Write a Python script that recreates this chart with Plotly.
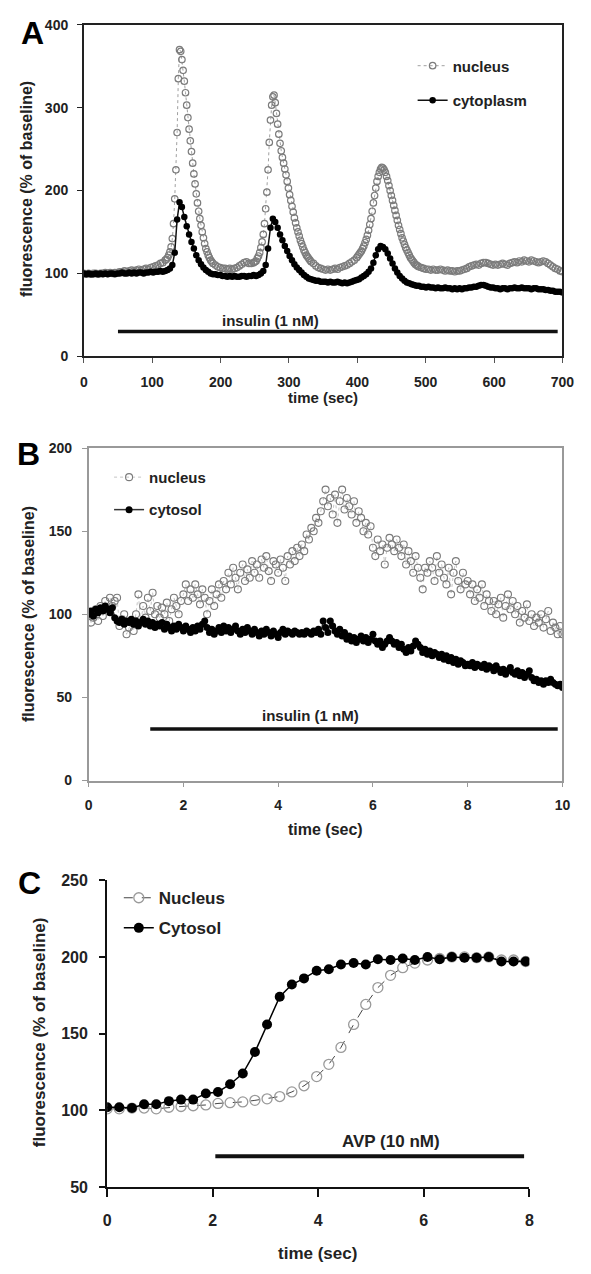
import numpy as np
import plotly.graph_objects as go

W, H = 591, 1274

# ---------------- Panel A data (time 0..700 s) ----------------
# nucleus: sampled every 3.5 s on plateaus and 1.75 s across the three peaks
nucA_seg1 = [100, 99, 100, 99, 100, 100, 99, 100, 100, 101,
             100, 101, 100, 101, 101, 102, 102, 103, 102, 103,
             104, 103, 104, 105, 104, 105, 106, 105, 107, 108,
             109, 110, 112, 113, 116]                                  # 0 .. 119 (3.5 s)
nucA_peak1 = [117, 119, 122, 126, 132, 142, 160, 190, 225, 270,
              335, 370, 368, 358, 345, 332, 318, 303, 288, 274,
              260, 247, 233, 220, 208, 196, 185, 175, 166, 158,
              150, 143, 136, 130, 126, 122, 119, 116, 114, 112]        # 120.75 .. 189 (1.75 s)
nucA_seg3 = [110, 108, 107, 106, 106, 105, 106, 105, 106, 107,
             109, 111, 113, 114, 112, 112, 113]                        # 192.5 .. 248.5
nucA_peak2 = [114, 115, 118, 121, 125, 131, 138, 147, 160, 178,
              198, 225, 258, 285, 303, 313, 315, 306, 293, 280,
              268, 257, 248, 240, 233, 226, 219, 211, 203, 195,
              188, 181, 174, 167, 161, 155, 150, 145, 140, 136,
              132, 128, 125, 122, 120, 118, 116, 114]                  # 250.25 .. 332.5
nucA_seg5 = [112, 109, 107, 106, 105, 104, 105, 104, 105, 106,
             105, 107, 108, 109, 110, 112, 114, 116, 119]              # 336 .. 399
nucA_peak3 = [121, 123, 125, 127, 130, 133, 137, 141, 146, 152,
              159, 166, 175, 185, 194, 203, 211, 217, 222, 226,
              228, 227, 225, 222, 217, 212, 206, 200, 194, 188,
              182, 176, 170, 164, 158, 153, 148, 143, 139, 135,
              131, 128, 125, 122, 119, 117, 115, 113, 111, 110,
              109, 108]                                                # 400.75 .. 490
nucA_seg7 = [107, 106, 105, 105, 104, 105, 104, 104, 105,
             104, 103, 104, 103, 103, 102, 103, 103, 104, 105,
             106, 108, 109, 110, 111, 110, 112, 113, 113, 112,
             111, 110, 111, 110, 111, 112, 111, 110, 112, 113,
             114, 113, 115, 114, 116, 115, 114, 116, 115, 114,
             113, 114, 115, 114, 112, 110, 108, 106, 105, 103,
             102]                                                      # 493.5 .. 700
nucA_segments = [  # (start, step) for each nucleus segment
    (0.0, 3.5), (120.75, 1.75), (192.5, 3.5), (250.25, 1.75),
    (336.0, 3.5), (400.75, 1.75), (493.5, 3.5)]

cytoplasm_A = [
    100, 99, 100, 99, 99, 100, 99, 100, 99,
    100, 99, 100, 100, 99, 100, 100, 101, 100, 100, 101, 100,
    101, 100, 101, 101, 100, 101, 101, 102,
    101, 102, 102, 103, 102, 103, 104, 106,
    110, 125, 165, 186, 180, 168, 157, 147, 138, 130, 122, 116, 111, 107, 104, 102, 100, 99,
    99, 98, 98, 97, 97, 96, 97, 96, 97, 96, 96, 97, 97, 96, 97, 97, 98, 97,
    98, 100, 103, 110, 130, 155, 166, 162, 155, 147, 140, 133, 127, 121, 116, 111, 107, 104,
    101, 98, 96, 94, 93, 92, 91, 91, 90, 90,
    90, 89, 90, 89, 89, 90, 89, 88, 89, 88, 89, 90,
    91, 92, 93, 95, 97, 99, 102, 106, 113, 122, 129, 133, 132, 129, 124, 118, 112, 106,
    101, 97, 94, 91, 89, 88, 87, 86, 85, 85,
    84, 84, 83, 84, 83, 83, 82, 83, 82, 82, 83, 82, 82, 81, 82, 81, 82, 81,
    82, 82, 83, 83, 84, 84, 85, 86, 86, 85, 84, 83,
    83, 82, 82, 81, 82, 82, 81, 82, 82, 83, 82, 82, 83, 82, 82, 82, 81, 82, 82, 81,
    81, 81, 80, 80, 79, 79, 78, 78, 78, 77,
]
time_A_end = 700
insulin_A = (50, 693)

# ---------------- Panel B data (time 0..10 s) ----------------
nucleus_B = [
    100, 95, 98, 103, 96, 105, 99, 108, 103, 110,
    105, 108, 110, 93, 97, 100, 88, 92, 95, 90,
    100, 112, 95, 105, 98, 110, 102, 113, 100, 105,
    98, 104, 100, 107, 96, 103, 110, 105, 100, 108,
    112, 118, 108, 115, 110, 118, 112, 106, 115, 110,
    100, 108, 115, 105, 112, 118, 110, 120, 115, 125,
    118, 128, 122, 115, 125, 130, 120, 127, 122, 132,
    125, 130, 122, 133, 128, 135, 126, 120, 132, 130,
    125, 133, 128, 120, 135, 130, 138, 132, 140, 135,
    142, 138, 148, 145, 152, 150, 158, 155, 162, 168,
    175, 165, 170, 160, 172, 155, 168, 175, 163, 170,
    165, 160, 168, 155, 162, 158, 150, 155, 148, 153,
    140, 135, 145, 138, 142, 130, 140, 146, 142, 138,
    145, 140, 135, 142, 130, 138, 132, 125, 135, 128,
    122, 115, 128, 125, 132, 128, 120, 135, 125, 130,
    122, 118, 128, 112, 125, 132, 120, 115, 125, 118,
    120, 112, 118, 108, 115, 110, 118, 105, 112, 108,
    102, 108, 100, 106, 110, 98, 105, 112, 103, 108,
    100, 105, 95, 102, 98, 106, 96, 100, 93, 98,
    95, 100, 92, 97, 102, 90, 95, 92, 88, 93,
    88,
]
cytosol_B = [
    100, 102, 99, 103, 101, 104, 102, 105, 103, 101,
    104, 98, 96, 95, 97, 94, 96, 95, 97, 94,
    96, 93, 95, 97, 94, 96, 93, 95, 92, 94,
    93, 95, 91, 94, 92, 90, 93, 91, 94, 92,
    90, 93, 91, 89, 92, 90, 93, 91, 94, 96,
    92, 89, 91, 88, 90, 92, 89, 93, 90, 92,
    89, 91, 93, 90, 88, 91, 89, 92, 90, 88,
    91, 89, 87, 90, 88, 91, 89, 87, 90, 88,
    86, 89, 91, 88, 90, 89, 88, 90, 89, 88,
    89, 88, 90, 89, 88, 90, 89, 91, 88, 96,
    92, 89, 96, 93, 90, 88, 91, 87, 89, 85,
    87, 84, 86, 83, 85, 87, 84, 86, 83, 85,
    88, 84, 82, 84, 80, 82, 84, 86, 84, 82,
    83, 80, 82, 79, 77, 80, 78, 81, 84, 82,
    80, 77, 79, 76, 78, 75, 77, 76, 74, 76,
    73, 75, 72, 74, 71, 73, 70, 72, 71, 69,
    70, 69, 71, 68, 70, 69, 68, 70, 67, 69,
    68, 66, 69, 67, 65, 67, 64, 66, 68, 65,
    64, 66, 63, 65, 62, 64, 66, 62, 60, 61,
    59, 60, 58, 60, 59, 61, 59, 58, 57, 58,
    56,
]
time_B_end = 10
insulin_B = (1.3, 9.9)

# ---------------- Panel C data ----------------
time_C = [0.0, 0.23, 0.47, 0.70, 0.93, 1.17, 1.40, 1.63, 1.87, 2.10,
          2.33, 2.57, 2.80, 3.03, 3.27, 3.50, 3.73, 3.97, 4.20, 4.43,
          4.67, 4.90, 5.13, 5.37, 5.60, 5.83, 6.07, 6.30, 6.53, 6.77,
          7.00, 7.23, 7.47, 7.70, 7.93]
cytosol_C = [102, 102, 101.5, 104, 104, 106, 107, 107, 111, 112,
             117, 124, 138, 156, 174, 182, 186, 191, 192, 195,
             196, 195, 198.5, 198, 199, 198, 200, 198.5, 200, 199.5,
             199.5, 200, 197, 197, 197]
nucleus_C = [101, 101, 101.5, 101.5, 101, 102, 102.5, 103, 103.5, 104.5,
             105, 105.5, 106.5, 107.5, 109, 112, 116, 122, 130, 141,
             156, 169, 180, 188, 193, 196, 198, 199, 200, 200,
             199.5, 200, 198, 198, 197]
avp_C = (2.05, 7.9)

FONT = "Liberation Sans, Arial, sans-serif"


def px_x(p):
    return p / W


def px_y(p):
    return 1 - p / H


# assemble panel A nucleus time axis from the segment sampling grid
nucA_parts = [nucA_seg1, nucA_peak1, nucA_seg3, nucA_peak2, nucA_seg5, nucA_peak3, nucA_seg7]
tA_n, nucleus_A = [], []
for (t0, dt), vals in zip(nucA_segments, nucA_parts):
    tA_n.extend(t0 + dt * np.arange(len(vals)))
    nucleus_A.extend(vals)
tA_c = np.linspace(0, time_A_end, len(cytoplasm_A))

fig = go.Figure()

# Panel A traces
fig.add_trace(go.Scatter(
    x=tA_n, y=nucleus_A, mode="lines+markers", name="nucleus",
    line=dict(color="#a0a0a0", width=1, dash="dot"),
    marker=dict(symbol="circle-open", size=6.5, color="#7c7c7c", line=dict(width=1.2)),
    xaxis="x", yaxis="y", legend="legend", legendgroup="a1"))
fig.add_trace(go.Scatter(
    x=tA_c, y=cytoplasm_A, mode="lines+markers", name="cytoplasm",
    line=dict(color="#111111", width=1.5),
    marker=dict(symbol="circle", size=6.5, color="#000000"),
    xaxis="x", yaxis="y", legend="legend", legendgroup="a2"))

# Panel B traces
tB_n = np.linspace(0, time_B_end, len(nucleus_B))
tB_c = np.linspace(0, time_B_end, len(cytosol_B))
fig.add_trace(go.Scatter(
    x=tB_n, y=nucleus_B, mode="lines+markers", name="nucleus",
    line=dict(color="#b5b5b5", width=0.8, dash="dot"),
    marker=dict(symbol="circle-open", size=7, color="#7a7a7a", line=dict(width=1.1)),
    xaxis="x2", yaxis="y2", legend="legend2", legendgroup="b1"))
fig.add_trace(go.Scatter(
    x=tB_c, y=cytosol_B, mode="lines+markers", name="cytosol",
    line=dict(color="#333333", width=1.5),
    marker=dict(symbol="circle", size=7, color="#000000"),
    xaxis="x2", yaxis="y2", legend="legend2", legendgroup="b2"))

# Panel C traces
fig.add_trace(go.Scatter(
    x=time_C, y=nucleus_C, mode="lines+markers", name="Nucleus",
    line=dict(color="#444444", width=1, dash="dash"),
    marker=dict(symbol="circle-open", size=10, color="#9a9a9a", line=dict(width=1.3)),
    xaxis="x3", yaxis="y3", legend="legend3", legendgroup="c1"))
fig.add_trace(go.Scatter(
    x=time_C, y=cytosol_C, mode="lines+markers", name="Cytosol",
    line=dict(color="#000000", width=1.5),
    marker=dict(symbol="circle", size=10, color="#000000"),
    xaxis="x3", yaxis="y3", legend="legend3", legendgroup="c2"))


def tickfont(s):
    return dict(family=FONT, size=s, color="#222222", weight="bold")


common = dict(showgrid=False, zeroline=False, ticks="outside", showline=True)

fig.update_layout(
    width=W, height=H, margin=dict(l=0, r=0, t=0, b=0),
    paper_bgcolor="white", plot_bgcolor="white",
    font=dict(family=FONT, color="#222222"),
    xaxis=dict(domain=[px_x(82), px_x(574)], range=[0, 700], dtick=100, anchor="y",
               linecolor="#222222", linewidth=1.5, mirror=True, ticklen=5, tickcolor="#555555",
               tickfont=tickfont(14), ticklabelstandoff=7, **common),
    yaxis=dict(domain=[px_y(353), px_y(17)], range=[0, 400], dtick=100, anchor="x",
               linecolor="#222222", linewidth=1.5, mirror=True, ticklen=5, tickcolor="#222222",
               tickfont=tickfont(14), ticklabelstandoff=6, **common),
    xaxis2=dict(domain=[px_x(87), px_x(574)], range=[0, 10], dtick=2, anchor="y2",
                linecolor="#999999", linewidth=1.5, mirror=True, ticklen=5, tickcolor="#999999",
                tickfont=tickfont(14), ticklabelstandoff=6, **common),
    yaxis2=dict(domain=[px_y(783), px_y(446)], range=[0, 200], dtick=50, anchor="x2",
                linecolor="#999999", linewidth=1.5, mirror=True, ticklen=5, tickcolor="#999999",
                tickfont=tickfont(14), ticklabelstandoff=7, **common),
    xaxis3=dict(domain=[px_x(106), px_x(540)], range=[0, 8], dtick=2, anchor="y3",
                linecolor="#111111", linewidth=2, ticklen=8, tickcolor="#111111", tickwidth=2,
                tickfont=tickfont(16), ticklabelstandoff=10, **common),
    yaxis3=dict(domain=[px_y(1195), px_y(884)], range=[50, 250], dtick=50, anchor="x3",
                linecolor="#111111", linewidth=2, ticklen=6, tickcolor="#111111", tickwidth=2,
                tickfont=tickfont(16), ticklabelstandoff=8, **common),
    legend=dict(x=px_x(420), y=px_y(42), xanchor="left", yanchor="top",
                font=dict(family=FONT, size=15, color="#222222", weight="bold"),
                bgcolor="rgba(0,0,0,0)", tracegroupgap=12, itemwidth=30),
    legend2=dict(x=px_x(108), y=px_y(459), xanchor="left", yanchor="top",
                 font=dict(family=FONT, size=15, color="#222222", weight="bold"),
                 bgcolor="rgba(0,0,0,0)", tracegroupgap=10, itemwidth=30),
    legend3=dict(x=px_x(118), y=px_y(884), xanchor="left", yanchor="top",
                 font=dict(family=FONT, size=17, color="#222222", weight="bold"),
                 bgcolor="rgba(0,0,0,0)", tracegroupgap=5, itemwidth=30),
    showlegend=True,
)

# Treatment bars
bar_specs = [("x", "y", insulin_A, 30, 3.5), ("x2", "y2", insulin_B, 31, 3.5), ("x3", "y3", avp_C, 70, 4)]
for xa, ya, (x0, x1), yv, wdt in bar_specs:
    fig.add_shape(type="line", xref=xa, yref=ya, x0=x0, x1=x1, y0=yv, y1=yv,
                  line=dict(color="#111111", width=wdt))

annotations = [
    dict(xref="x", yref="y", x=273, y=43, text="insulin (1 nM)", font=tickfont(15)),
    dict(xref="x2", yref="y2", x=4.68, y=39, text="insulin (1 nM)", font=tickfont(15)),
    dict(xref="x3", yref="y3", x=5.38, y=80, text="AVP (10 nM)", font=tickfont(17)),
    # panel letters
    dict(xref="paper", yref="paper", x=px_x(29), y=px_y(25), text="A",
         font=dict(family=FONT, size=32, color="#000000", weight="bold")),
    dict(xref="paper", yref="paper", x=px_x(25), y=px_y(452), text="B",
         font=dict(family=FONT, size=32, color="#000000", weight="bold")),
    dict(xref="paper", yref="paper", x=px_x(26), y=px_y(887), text="C",
         font=dict(family=FONT, size=32, color="#000000", weight="bold")),
    # axis titles
    dict(xref="paper", yref="paper", x=px_x(328), y=px_y(395), text="time (sec)", font=tickfont(15)),
    dict(xref="paper", yref="paper", x=px_x(330), y=px_y(833), text="time (sec)", font=tickfont(16)),
    dict(xref="paper", yref="paper", x=px_x(322), y=px_y(1262), text="time (sec)", font=tickfont(17)),
    dict(xref="paper", yref="paper", x=px_x(23), y=px_y(183), text="fluorescence (% of baseline)",
         textangle=-90, font=tickfont(16)),
    dict(xref="paper", yref="paper", x=px_x(26), y=px_y(614), text="fluorescence (% of baseline)",
         textangle=-90, font=tickfont(16)),
    dict(xref="paper", yref="paper", x=px_x(36), y=px_y(1038), text="fluorescence (% of baseline)",
         textangle=-90, font=tickfont(17)),
]
for a in annotations:
    a.setdefault("showarrow", False)
    a.setdefault("xanchor", "center")
    a.setdefault("yanchor", "middle")
    fig.add_annotation(**a)

# remove the browser's default 8px body margin so the figure sits at the window origin
fig.write_html("out.html", config={"displayModeBar": False},
               post_script="document.body.style.margin='0px';")
